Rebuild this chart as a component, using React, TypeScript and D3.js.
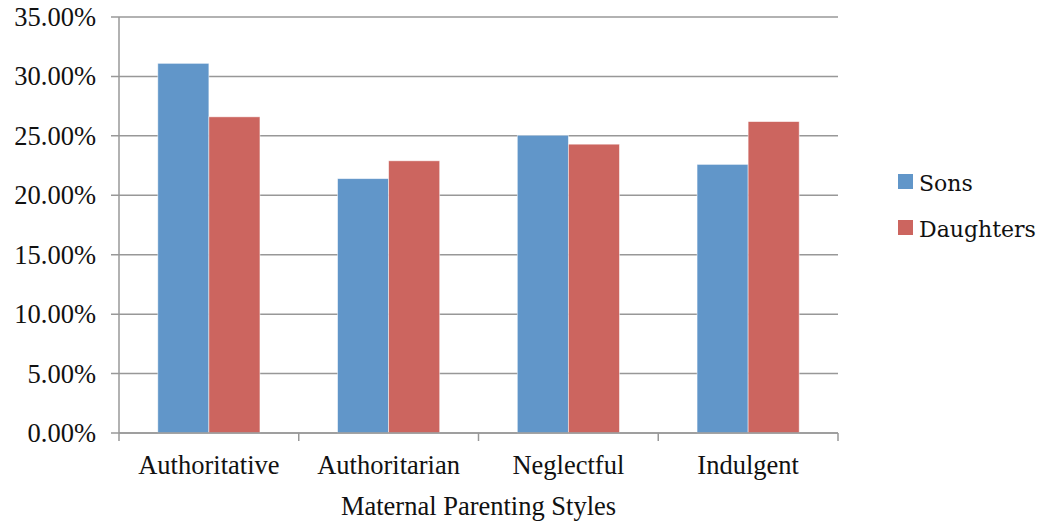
import { useEffect, useRef } from 'react';
import * as d3 from 'd3';

const categories = ['Authoritative', 'Authoritarian', 'Neglectful', 'Indulgent'];
const sons = [31.1, 21.4, 25.05, 22.6];
const daughters = [26.6, 22.9, 24.3, 26.2];
const yTicks = [0, 5, 10, 15, 20, 25, 30, 35];

const SERIES = [
  { name: 'Sons', values: sons, color: '#6196c9' },
  { name: 'Daughters', values: daughters, color: '#cc655f' },
];

const W = 1046;
const H = 522;

export default function App() {
  const svgRef = useRef<SVGSVGElement>(null);

  useEffect(() => {
    const svg = d3.select(svgRef.current);
    svg.selectAll('*').remove();

    const left = 119, right = 838, top = 17, bottom = 433;
    const x = d3.scaleBand<string>().domain(categories).range([left, right]);
    const y = d3.scaleLinear().domain([0, 35]).range([bottom, top]);
    const inner = d3.scaleBand<string>()
      .domain(SERIES.map(s => s.name))
      .range([0, x.bandwidth()])
      .paddingOuter(0.76)
      .paddingInner(0);

    const font = '"Liberation Serif", "Times New Roman", serif';
    const fs = 26.5;

    // gridlines
    svg.append('g').selectAll('line').data(yTicks).join('line')
      .attr('x1', left - 8).attr('x2', right)
      .attr('y1', d => y(d)).attr('y2', d => y(d))
      .attr('stroke', '#989898').attr('stroke-width', 1.5);

    // y axis line
    svg.append('line')
      .attr('x1', left).attr('x2', left).attr('y1', top).attr('y2', bottom)
      .attr('stroke', '#989898').attr('stroke-width', 1.5);

    // y labels
    svg.append('g').selectAll('text').data(yTicks).join('text')
      .attr('x', 96).attr('y', d => y(d))
      .attr('text-anchor', 'end').attr('dominant-baseline', 'central')
      .attr('font-family', font).attr('font-size', fs).attr('fill', '#111')
      .text(d => d.toFixed(2) + '%');

    // bars
    SERIES.forEach(s => {
      svg.append('g').selectAll('rect').data(categories).join('rect')
        .attr('x', c => (x(c) ?? 0) + (inner(s.name) ?? 0))
        .attr('y', (c, i) => y(s.values[i]))
        .attr('width', inner.bandwidth())
        .attr('height', (c, i) => bottom - y(s.values[i]))
        .attr('fill', s.color)
        .attr('stroke', 'rgba(255,255,255,0.6)').attr('stroke-width', 0.8);
    });

    // x axis
    svg.append('line')
      .attr('x1', left).attr('x2', right).attr('y1', bottom).attr('y2', bottom)
      .attr('stroke', '#989898').attr('stroke-width', 1.5);
    const bounds = [...categories.map(c => x(c) ?? 0), right];
    svg.append('g').selectAll('line').data(bounds).join('line')
      .attr('x1', d => d).attr('x2', d => d).attr('y1', bottom).attr('y2', bottom + 8)
      .attr('stroke', '#989898').attr('stroke-width', 1.5);

    svg.append('g').selectAll('text').data(categories).join('text')
      .attr('x', c => (x(c) ?? 0) + x.bandwidth() / 2).attr('y', 474)
      .attr('text-anchor', 'middle')
      .attr('font-family', font).attr('font-size', fs).attr('fill', '#111')
      .text(c => c);

    svg.append('text')
      .attr('x', (left + right) / 2).attr('y', 515)
      .attr('text-anchor', 'middle')
      .attr('font-family', font).attr('font-size', fs).attr('fill', '#111')
      .text('Maternal Parenting Styles');

    // legend
    const lg = svg.append('g').selectAll('g').data(SERIES).join('g')
      .attr('transform', (d, i) => `translate(898, ${174 + i * 46})`);
    lg.append('rect').attr('width', 15).attr('height', 15).attr('fill', d => d.color);
    lg.append('text')
      .attr('x', 21).attr('y', 17)
      .attr('font-family', '"DejaVu Serif", Cambria, serif').attr('font-size', 22).attr('fill', '#111')
      .text(d => d.name);
  }, []);

  return (
    <svg ref={svgRef} width={W} height={H}
      style={{ position: 'absolute', left: 0, top: 0, background: '#fff', display: 'block' }} />
  );
}
